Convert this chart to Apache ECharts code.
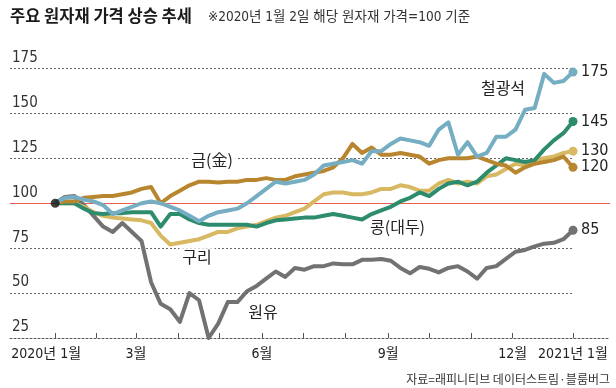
<!DOCTYPE html>
<html><head><meta charset="utf-8">
<script src="https://cdn.jsdelivr.net/npm/echarts@6/dist/echarts.min.js"></script>
<style>html,body{margin:0;padding:0;background:#fff}#c{width:616px;height:388px}</style>
</head><body><div id="c"></div>
<script>
// days since 2020-01-02 (weekly observations)
const days = [0,7,14,21,28,35,42,49,56,63,70,77,84,91,98,105,112,119,126,133,140,147,154,161,168,175,182,189,196,203,210,217,224,231,238,245,252,259,266,273,280,287,294,301,308,315,322,329,336,343,350,357,364,371,378];

const oil    = [100,103.5,104,99,93,87,84,89,84,79, 56,44,41,34,50,46,25,33,45,45, 51,54,58,62,59,64,63,65,65,66.5, 66,66,68.5,68.5,69,68,64,61,64.5,63.5, 61.5,64,65,62,58,64,65,69,73,74, 76,77.5,78,80,85];
const copper = [100,100,100,98,95,93,92,91.5,91,90.5, 89,82,77,78,79,80,82,84,84,86, 87,88,90,92,93,95,97,101,105,106, 106,105,105,106,108,108,110,109,107,107, 111,113,111,112,111,115,116,119,122,121, 124,125,126,128,129];
const soy    = [100,100,100,97,94.5,94,94.5,94.5,95,95, 95,87,94,94,91,89,88,88,88,88, 88,87,89,90.5,91,91.5,92,92,93,94, 93,92,91,94,96,98,101,103,106,104, 108,111,112,110,112,117,121,125,124,123, 124,130,135,139,145.5];
const gold   = [100,101,101,103,103.5,104,104,105,106,108, 109,100,104,107,110,112,112,111.5,112,112, 113,113,114,113,113,115,116,117,118,120, 125,133,128,131,127,127,128,127,126,122, 124,125,125,125,126,124,122,121,117,120, 122,123,124,126,120];
const iron   = [100,103,103.5,102,101,99,94,96,98,100, 101,100,98,96,93,90,93,95,96,97, 100,104,108,112,111,112,113,116,121,122, 123,124,122,129,129,133,136,135,134,132, 141,145,127,134,126,128,137,137,141,152, 153,172,167,168,173];

const seriesNames = ['원유','구리','콩(대두)','금(金)','철광석'];
const endTexts    = ['85','130','145','120','175'];
const yTicks = [25,50,75,125,150,175];
const monthTicks = [0,30,59,90,120,151,181,212,243,273,304,334,378];
const labelTicks = [0,59,151,243,334,378];
const tickLabels = ['2020년 1월','3월','6월','9월','12월','2021년 1월'];
// name annotation anchors in data units [day, index]
const nameAnchors = [[151.7,39.4],[103.5,70],[249.9,86.7],[114.5,123.9],[326.9,164.4]];

const values = [oil, copper, soy, gold, iron];
const colors = ['#727272','#D8B862','#2E8C6E','#B8862E','#75ADC2'];
const NUM = "'DejaVu Sans Condensed','Roboto','Noto Sans CJK KR',sans-serif";
const KR = "'Noto Sans CJK KR',sans-serif";

const chart = echarts.init(document.getElementById('c'), null, {renderer:'canvas'});

const series = values.map((vals, i) => {
  const last = vals.length - 1;
  const s = {
    type: 'line',
    name: seriesNames[i],
    data: vals.map((v, k) => [days[k], v]),
    z: 3 + i,
    lineStyle: {color: colors[i], width: 4, join: 'round'},
    itemStyle: {color: colors[i]},
    symbol: 'circle',
    showSymbol: true,
    showAllSymbol: true,
    symbolSize: (v, p) => p.dataIndex === last ? 9 : 0,
    endLabel: {show: true, formatter: endTexts[i], color: '#222', fontSize: 16, fontFamily: NUM, distance: 8},
    markPoint: {
      silent: true,
      symbol: 'circle', symbolSize: 0,
      data: [{coord: nameAnchors[i]}],
      label: {show: true, position: 'inside', formatter: seriesNames[i], color: '#222', fontSize: 16,
              fontFamily: KR, backgroundColor: '#fff', padding: [1, 3]}
    },
    animation: false
  };
  if (i === 0) {
    s.markLine = {
      silent: true, symbol: ['none','none'], label: {show: false}, z: 1,
      data: [{yAxis: 100, lineStyle: {color: '#E8604C', width: 1, type: 'solid'}}]
        .concat(yTicks.filter(t => t !== 25).map(t => [
          {coord: [-33, t], lineStyle: {color: '#666', width: 1, type: [2, 2]}},
          {coord: [378, t]}
        ]))
    };
  }
  return s;
});

series.push({
  type: 'scatter', data: [[days[0], oil[0]]], symbolSize: 9, z: 20,
  itemStyle: {color: '#111'}, silent: true, animation: false
});

chart.setOption({
  animation: false,
  backgroundColor: '#fff',
  title: [
    {text: '주요 원자재 가격 상승 추세', left: 10, top: 7, padding: 0,
     textStyle: {fontSize: 16.5, fontWeight: 'bold', color: '#1a1a1a', fontFamily: KR}},
    {text: '※2020년 1월 2일 해당 원자재 가격=100 기준', left: 208, top: 11, padding: 0,
     textStyle: {fontSize: 13.5, fontWeight: 'normal', color: '#333', fontFamily: NUM}},
    {text: '자료=래피니티브 데이터스트림·블룸버그', right: 6, top: 373, padding: 0,
     textStyle: {fontSize: 12, fontWeight: 'normal', color: '#333', fontFamily: KR}}
  ],
  grid: {left: 10, right: 6, top: 68.5, bottom: 50},
  xAxis: {
    type: 'value', min: -33, max: 405,
    splitLine: {show: false},
    axisLine: {show: true, lineStyle: {color: '#555', width: 1, type: [2, 2]}},
    axisTick: {show: true, inside: true, length: 5, customValues: monthTicks, lineStyle: {color: '#555'}},
    axisLabel: {
      customValues: labelTicks, margin: 9, fontSize: 14, color: '#222', fontFamily: NUM,
      formatter: v => {
        const k = labelTicks.indexOf(v);
        if (k < 0) return '';
        return k === 0 ? '{a|' + tickLabels[k] + '}' : tickLabels[k];
      },
      rich: {a: {fontSize: 14, color: '#222', fontFamily: NUM, padding: [0, 18, 0, 0]}}
    }
  },
  yAxis: {
    type: 'value', min: 25, max: 175, interval: 25,
    splitLine: {show: false}, axisLine: {show: false}, axisTick: {show: false},
    axisLabel: {inside: true, margin: 2, verticalAlign: 'bottom', padding: [0, 0, 3, 0],
                fontSize: 15, color: '#333', fontFamily: NUM}
  },
  series: series
});
</script></body></html>
